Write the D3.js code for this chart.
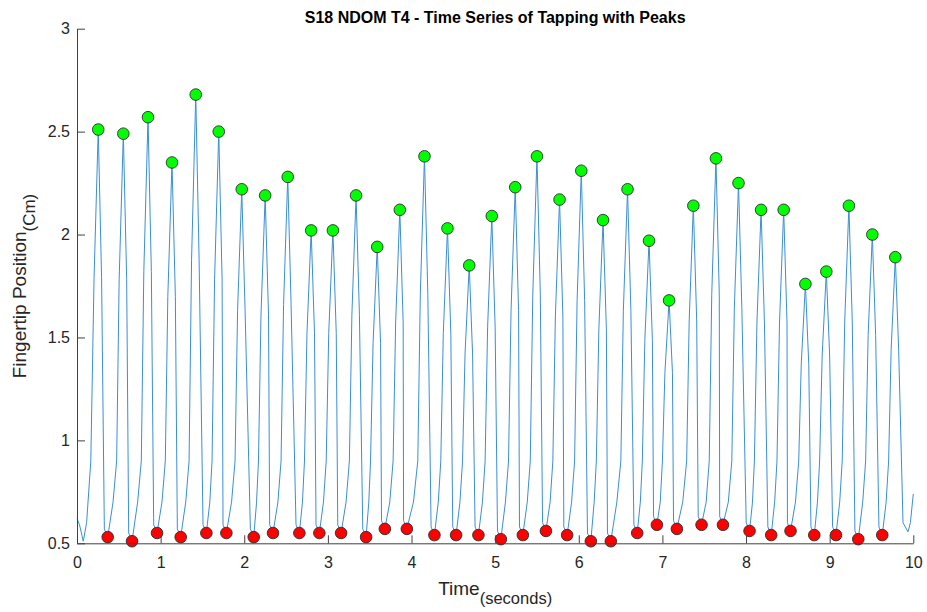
<!DOCTYPE html>
<html>
<head>
<meta charset="utf-8">
<script src="https://cdn.jsdelivr.net/npm/d3@7"></script>
<style>
  body { margin: 0; background: #fff; }
  svg { display: block; font-family: "Liberation Sans", Arial, Helvetica, sans-serif; }
</style>
</head>
<body>
<svg id="svg" width="927" height="612"></svg>
<script>
// peaks (green) and troughs (red)
var peakTimes  = [0.254,0.554,0.849,1.136,1.42,1.695,1.97,2.25,2.52,2.80,3.06,3.337,3.59,3.86,4.155,4.43,4.69,4.96,
                  5.24,5.50,5.77,6.03,6.29,6.583,6.84,7.08,7.37,7.64,7.91,8.18,8.45,8.71,8.96,9.23,9.51,9.785];
var peakValues = [2.51,2.49,2.57,2.35,2.68,2.50,2.22,2.19,2.28,2.02,2.02,2.19,1.94,2.12,2.38,2.03,1.85,2.09,
                  2.23,2.38,2.17,2.31,2.07,2.22,1.97,1.68,2.14,2.37,2.25,2.12,2.12,1.76,1.82,2.14,2.00,1.89];

var troughTimes  = [0.367,0.658,0.957,1.240,1.547,1.786,2.113,2.344,2.659,2.898,3.158,3.457,3.681,3.944,4.274,4.533,4.80,5.068,
                    5.331,5.607,5.861,6.144,6.383,6.699,6.934,7.173,7.468,7.724,8.042,8.301,8.532,8.816,9.075,9.342,9.629];
var troughValues = [0.53,0.51,0.55,0.53,0.55,0.55,0.53,0.55,0.55,0.55,0.55,0.53,0.57,0.57,0.54,0.54,0.54,0.52,
                    0.54,0.56,0.54,0.51,0.51,0.55,0.59,0.57,0.59,0.59,0.56,0.54,0.56,0.54,0.54,0.52,0.54];

// fingertip trace [time, position], one row per tap
var trace = [
  [0,0.62],[0.03,0.59],[0.075,0.51],[0.115,0.60],[0.165,0.90],
  [0.204,1.79],[0.254,2.51],[0.294,1.79],[0.327,0.57],[0.367,0.53],[0.431,0.70],[0.474,0.90],
  [0.504,1.78],[0.554,2.49],[0.594,1.78],[0.618,0.55],[0.658,0.51],[0.725,0.70],[0.769,0.90],
  [0.799,1.82],[0.849,2.57],[0.889,1.82],[0.917,0.59],[0.957,0.55],[1.016,0.70],[1.056,0.90],
  [1.086,1.70],[1.136,2.35],[1.176,1.70],[1.200,0.57],[1.240,0.53],[1.300,0.70],[1.340,0.90],
  [1.37,1.88],[1.42,2.68],[1.46,1.88],[1.507,0.59],[1.547,0.55],[1.588,0.70],[1.615,0.90],
  [1.645,1.78],[1.695,2.50],[1.735,1.78],[1.746,0.59],[1.786,0.55],[1.848,0.70],[1.890,0.90],
  [1.92,1.63],[1.97,2.22],[2.01,1.63],[2.073,0.57],[2.113,0.53],[2.147,0.70],[2.170,0.90],
  [2.20,1.61],[2.25,2.19],[2.29,1.61],[2.304,0.59],[2.344,0.55],[2.402,0.70],[2.440,0.90],
  [2.47,1.66],[2.52,2.28],[2.56,1.66],[2.619,0.59],[2.659,0.55],[2.696,0.70],[2.720,0.90],
  [2.75,1.52],[2.80,2.02],[2.84,1.52],[2.858,0.59],[2.898,0.55],[2.947,0.70],[2.980,0.90],
  [3.01,1.52],[3.06,2.02],[3.10,1.52],[3.118,0.59],[3.158,0.55],[3.217,0.70],[3.257,0.90],
  [3.287,1.61],[3.337,2.19],[3.377,1.61],[3.417,0.57],[3.457,0.53],[3.489,0.70],[3.510,0.90],
  [3.54,1.47],[3.59,1.94],[3.63,1.47],[3.641,0.61],[3.681,0.57],[3.740,0.70],[3.780,0.90],
  [3.81,1.57],[3.86,2.12],[3.90,1.57],[3.905,0.61],[3.944,0.57],[4.023,0.70],[4.075,0.90],
  [4.105,1.71],[4.155,2.38],[4.195,1.71],[4.234,0.58],[4.274,0.54],[4.320,0.70],[4.350,0.90],
  [4.38,1.52],[4.43,2.03],[4.47,1.52],[4.493,0.58],[4.533,0.54],[4.579,0.70],[4.610,0.90],
  [4.64,1.42],[4.69,1.85],[4.73,1.42],[4.760,0.58],[4.800,0.54],[4.848,0.70],[4.880,0.90],
  [4.91,1.55],[4.96,2.09],[5.00,1.55],[5.028,0.56],[5.068,0.52],[5.123,0.70],[5.160,0.90],
  [5.19,1.63],[5.24,2.23],[5.28,1.63],[5.291,0.58],[5.331,0.54],[5.384,0.70],[5.420,0.90],
  [5.45,1.71],[5.50,2.38],[5.54,1.71],[5.567,0.60],[5.607,0.56],[5.657,0.70],[5.690,0.90],
  [5.72,1.60],[5.77,2.17],[5.81,1.60],[5.821,0.58],[5.861,0.54],[5.914,0.70],[5.950,0.90],
  [5.98,1.68],[6.03,2.31],[6.07,1.68],[6.104,0.55],[6.144,0.51],[6.184,0.70],[6.210,0.90],
  [6.24,1.54],[6.29,2.07],[6.33,1.54],[6.343,0.55],[6.383,0.51],[6.455,0.70],[6.503,0.90],
  [6.533,1.63],[6.583,2.22],[6.623,1.63],[6.659,0.59],[6.699,0.55],[6.736,0.70],[6.760,0.90],
  [6.79,1.49],[6.84,1.97],[6.88,1.49],[6.894,0.63],[6.934,0.59],[6.974,0.70],[7.000,0.90],
  [7.03,1.33],[7.08,1.68],[7.12,1.33],[7.133,0.61],[7.173,0.57],[7.243,0.70],[7.290,0.90],
  [7.32,1.58],[7.37,2.14],[7.41,1.58],[7.428,0.63],[7.468,0.59],[7.523,0.70],[7.560,0.90],
  [7.59,1.71],[7.64,2.37],[7.68,1.71],[7.685,0.63],[7.724,0.59],[7.788,0.70],[7.830,0.90],
  [7.86,1.64],[7.91,2.25],[7.95,1.64],[8.002,0.60],[8.042,0.56],[8.077,0.70],[8.100,0.90],
  [8.13,1.57],[8.18,2.12],[8.22,1.57],[8.261,0.58],[8.301,0.54],[8.342,0.70],[8.370,0.90],
  [8.40,1.57],[8.45,2.12],[8.49,1.57],[8.495,0.60],[8.532,0.56],[8.591,0.70],[8.630,0.90],
  [8.66,1.37],[8.71,1.76],[8.75,1.37],[8.776,0.58],[8.816,0.54],[8.854,0.70],[8.880,0.90],
  [8.91,1.41],[8.96,1.82],[9.00,1.41],[9.035,0.58],[9.075,0.54],[9.120,0.70],[9.150,0.90],
  [9.18,1.58],[9.23,2.14],[9.27,1.58],[9.302,0.56],[9.342,0.52],[9.395,0.70],[9.430,0.90],
  [9.46,1.51],[9.51,2.00],[9.55,1.51],[9.589,0.58],[9.629,0.54],[9.675,0.70],[9.705,0.90],
  [9.735,1.44],[9.785,1.89],[9.825,1.44],[9.877,0.60],[9.937,0.556],[9.965,0.60],[10.0,0.74]
];

var xTicks = [0,1,2,3,4,5,6,7,8,9,10];
var yTicks = [0.5,1,1.5,2,2.5,3];
var yTickLabels = ["0.5","1","1.5","2","2.5","3"];

var svg = d3.select("#svg");
var padding = {top:28.7, right:13.7, bottom:68.7, left:77};
var chartArea = {
  "width": 927 - padding.left - padding.right,
  "height": 612 - padding.top - padding.bottom
};

var xScale = d3.scaleLinear().domain([0,10]).range([0, chartArea.width]);
var yScale = d3.scaleLinear().domain([0.5,3]).range([chartArea.height, 0]);

var g = svg.append("g")
  .attr("transform", "translate(" + padding.left + "," + padding.top + ")");

// trace
g.append("path")
  .datum(trace)
  .attr("fill", "none")
  .attr("stroke", "#3a8fd4")
  .attr("stroke-width", 1)
  .attr("stroke-linejoin", "round")
  .attr("d", d3.line()
    .x(function(d){ return xScale(d[0]); })
    .y(function(d){ return yScale(d[1]); }));

// peaks
g.selectAll("circle.peak").data(peakTimes).enter()
  .append("circle")
  .attr("class", "peak")
  .attr("cx", function(d){ return xScale(d); })
  .attr("cy", function(d,i){ return yScale(peakValues[i]); })
  .attr("r", 5.8)
  .attr("fill", "#00ff00")
  .attr("stroke", "#2b2b2b")
  .attr("stroke-width", 0.9);

// troughs
g.selectAll("circle.trough").data(troughTimes).enter()
  .append("circle")
  .attr("class", "trough")
  .attr("cx", function(d){ return xScale(d); })
  .attr("cy", function(d,i){ return yScale(troughValues[i]); })
  .attr("r", 5.8)
  .attr("fill", "#ff0000")
  .attr("stroke", "#2b2b2b")
  .attr("stroke-width", 0.9);

// axes
var xAxis = g.append("g")
  .attr("transform", "translate(0," + chartArea.height + ")")
  .call(d3.axisBottom(xScale).tickValues(xTicks).tickFormat(d3.format("d"))
    .tickSizeInner(-8).tickSizeOuter(0).tickPadding(13));

var yAxis = g.append("g")
  .call(d3.axisLeft(yScale).tickValues(yTicks)
    .tickFormat(function(d,i){ return yTickLabels[i]; })
    .tickSizeInner(-8).tickSizeOuter(0).tickPadding(7));

[xAxis, yAxis].forEach(function(a){
  a.select(".domain").attr("stroke", "#404040");
  a.selectAll(".tick line").attr("stroke", "#404040");
  a.selectAll(".tick text").attr("fill", "#262626").style("font-size", "16px")
    .style("font-family", "'Liberation Sans', Arial, Helvetica, sans-serif");
});

// title
svg.append("text")
  .attr("x", padding.left + chartArea.width / 2)
  .attr("y", 23)
  .attr("text-anchor", "middle")
  .style("font-size", "16px")
  .style("font-weight", "bold")
  .attr("fill", "#000")
  .text("S18 NDOM T4 - Time Series of Tapping with Peaks");

// x label
var xl = svg.append("text")
  .attr("x", padding.left + chartArea.width / 2)
  .attr("y", 595)
  .attr("text-anchor", "middle")
  .attr("fill", "#262626");
xl.append("tspan").style("font-size", "19px").text("Time");
xl.append("tspan").attr("dy", 9).style("font-size", "16.5px").text("(seconds)");

// y label
var yl = svg.append("text")
  .attr("transform", "translate(26," + (padding.top + chartArea.height / 2) + ") rotate(-90)")
  .attr("text-anchor", "middle")
  .attr("fill", "#262626");
yl.append("tspan").style("font-size", "19px").text("Fingertip Position");
yl.append("tspan").attr("dy", 9).style("font-size", "17px").text("(Cm)");
</script>
</body>
</html>
